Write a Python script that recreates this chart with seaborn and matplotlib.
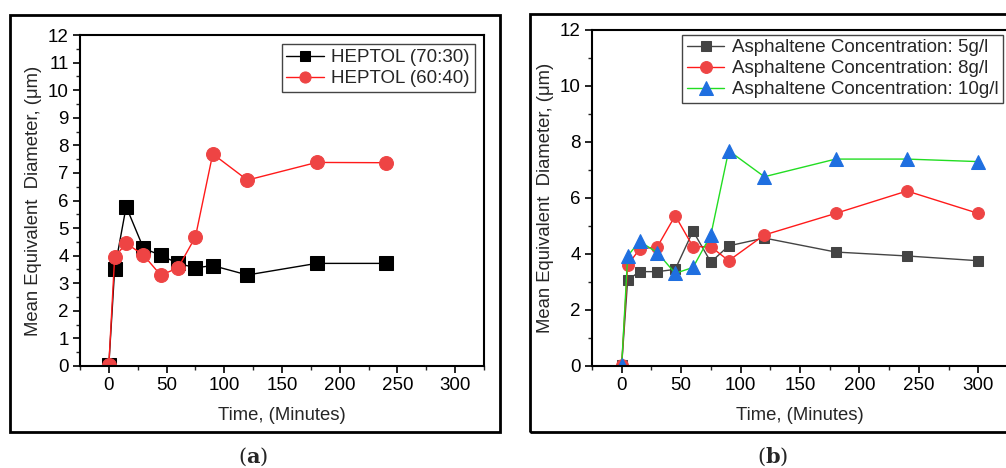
import matplotlib
matplotlib.use("Agg")
import seaborn as sns
import matplotlib.pyplot as plt
from matplotlib.patches import Rectangle
from matplotlib.ticker import MultipleLocator

# data
time_a = [0, 5, 15, 30, 45, 60, 75, 90, 120, 180, 240]
heptol_70_30 = [0.05, 3.5, 5.78, 4.27, 4.01, 3.72, 3.56, 3.64, 3.30, 3.72, 3.72]
heptol_60_40 = [0.05, 3.94, 4.45, 4.02, 3.29, 3.56, 4.68, 7.69, 6.74, 7.38, 7.37]

time_b = [0, 5, 15, 30, 45, 60, 75, 90, 120, 180, 240, 300]
conc_5 = [0.05, 3.07, 3.37, 3.37, 3.45, 4.82, 3.71, 4.29, 4.57, 4.07, 3.93, 3.76]
conc_8 = [0.05, 3.61, 4.17, 4.26, 5.37, 4.26, 4.26, 3.76, 4.68, 5.45, 6.25, 5.45]
conc_10 = [0.05, 3.93, 4.45, 4.05, 3.31, 3.52, 4.68, 7.69, 6.76, 7.39, 7.39, 7.30]

sns.set_style("ticks")
plt.rcParams['font.family'] = ['Liberation Sans', 'DejaVu Sans']
plt.rcParams['mathtext.fontset'] = 'dejavuserif'

fig = plt.figure(figsize=(10.06, 4.68), dpi=100)
W, H = 1006, 468

# outer frames round each panel
fig.patches.append(Rectangle((10 / W, 1 - 432 / H), 490 / W, 417 / H,
                             transform=fig.transFigure, fill=False,
                             edgecolor='black', linewidth=2))
fig.patches.append(Rectangle((530 / W, 1 - 432 / H), 490 / W, 418 / H,
                             transform=fig.transFigure, fill=False,
                             edgecolor='black', linewidth=2))

ax1 = fig.add_axes([80 / W, 1 - 366 / H, 404 / W, 331 / H])
ax2 = fig.add_axes([592 / W, 1 - 366 / H, 416 / W, 336 / H])

RED_LINE = '#ff1a1a'
RED_MARK = '#ee4444'

# (a)
sns.lineplot(x=time_a, y=heptol_70_30, ax=ax1, color='black', linewidth=1,
             marker='s', markersize=9.5, markeredgecolor='black',
             label='HEPTOL (70:30)')
sns.lineplot(x=time_a, y=heptol_60_40, ax=ax1, color=RED_LINE, linewidth=1,
             marker='o', markersize=10, markerfacecolor=RED_MARK,
             markeredgecolor=RED_MARK, label='HEPTOL (60:40)')
ax1.set_ylim(0, 12)
ax1.yaxis.set_major_locator(MultipleLocator(1))
ax1.yaxis.set_minor_locator(MultipleLocator(0.5))

# (b)
sns.lineplot(x=time_b, y=conc_5, ax=ax2, color='#444444', linewidth=1,
             marker='s', markersize=7.5, markerfacecolor='#444444',
             markeredgecolor='#444444',
             label='Asphaltene Concentration: 5g/l')
sns.lineplot(x=time_b, y=conc_8, ax=ax2, color=RED_LINE, linewidth=1,
             marker='o', markersize=8.5, markerfacecolor=RED_MARK,
             markeredgecolor=RED_MARK,
             label='Asphaltene Concentration: 8g/l')
sns.lineplot(x=time_b, y=conc_10, ax=ax2, color='#22dd22', linewidth=1,
             marker='^', markersize=9.5, markerfacecolor='#1f6fe0',
             markeredgecolor='#1f6fe0',
             label='Asphaltene Concentration: 10g/l')
ax2.set_ylim(0, 12)
ax2.yaxis.set_major_locator(MultipleLocator(2))
ax2.yaxis.set_minor_locator(MultipleLocator(1))

for ax, pad, mscale in ((ax1, 0.5, 0.8), (ax2, 0.25, 1.0)):
    ax.set_xlim(-25, 325)
    ax.xaxis.set_major_locator(MultipleLocator(50))
    ax.xaxis.set_minor_locator(MultipleLocator(25))
    for s in ax.spines.values():
        s.set_visible(True)
        s.set_linewidth(1.5)
        s.set_color('black')
    ax.tick_params(which='major', direction='out', length=5, width=1.2,
                   labelsize=13.5, colors='black', top=False, right=False,
                   pad=3)
    ax.tick_params(which='minor', direction='out', length=3, width=1,
                   top=False, right=False)
    ax.set_xlabel('Time, (Minutes)', fontsize=13.3, labelpad=9)
    ax.set_ylabel('Mean Equivalent  Diameter, (μm)', fontsize=13.3,
                  labelpad=4)
    leg = ax.legend(loc='upper right', fontsize=13.5, frameon=True,
                    fancybox=False, edgecolor='#444444', framealpha=1,
                    handlelength=2.0, borderpad=0.25, labelspacing=0.2,
                    handletextpad=0.4, borderaxespad=pad,
                    markerscale=mscale)
    leg.get_frame().set_linewidth(1)

fig.text(253 / W, 1 - 457 / H, r'($\mathbf{a}$)', ha='center', va='center',
         fontsize=15, family='DejaVu Serif')
fig.text(773 / W, 1 - 457 / H, r'($\mathbf{b}$)', ha='center', va='center',
         fontsize=15, family='DejaVu Serif')

fig.savefig('out.png', dpi=100)
